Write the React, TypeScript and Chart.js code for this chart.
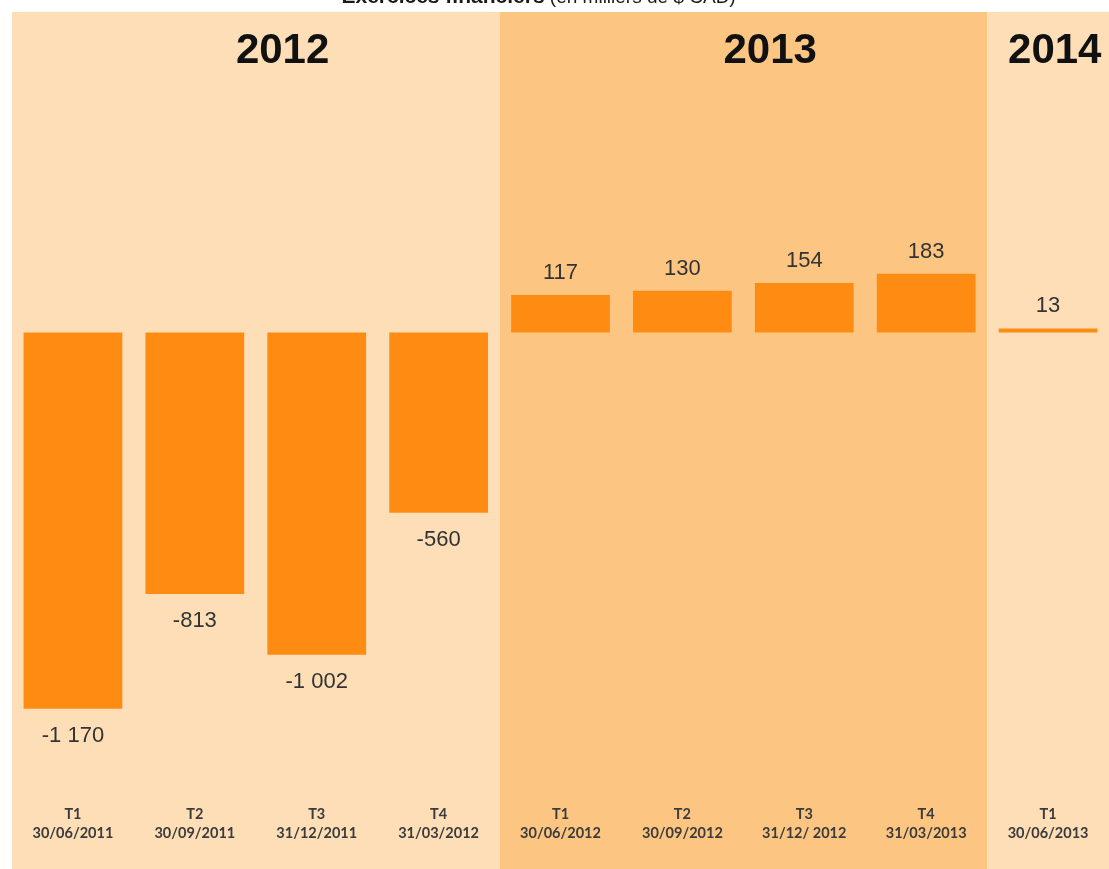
import React, { useEffect, useRef } from "react";
import { Chart, registerables } from "chart.js";

Chart.register(...registerables);

const quarterLabels: string[][] = [
  ["T1", "30/06/2011"],
  ["T2", "30/09/2011"],
  ["T3", "31/12/2011"],
  ["T4", "31/03/2012"],
  ["T1", "30/06/2012"],
  ["T2", "30/09/2012"],
  ["T3", "31/12/ 2012"],
  ["T4", "31/03/2013"],
  ["T1", "30/06/2013"],
];
const netValues: number[] = [-1170, -813, -1002, -560, 117, 130, 154, 183, 13];
const yearLabels: string[] = ["2012", "2013", "2014"];
const yearGroupSizes: number[] = [4, 4, 1];
const titleBold = "Exercices financiers";
const titleNormal = " (en milliers de $ CAD)";

const LIGHT_BAND = "#FDDEB7";
const DARK_BAND = "#FCC682";
const BAR_COLOR = "#FE8B12";
const TEXT_COLOR = "#333333";

const fmt = (v: number): string => {
  const s = Math.abs(v)
    .toString()
    .replace(/\B(?=(\d{3})+(?!\d))/g, " ");
  return (v < 0 ? "-" : "") + s;
};

const bandsPlugin = {
  id: "yearBands",
  beforeDraw(chart: any) {
    const { ctx, chartArea } = chart;
    const xs = chart.scales.x;
    let start = 0;
    ctx.save();
    yearGroupSizes.forEach((n, gi) => {
      const end = start + n;
      const left =
        start === 0
          ? chartArea.left
          : (xs.getPixelForValue(start - 1) + xs.getPixelForValue(start)) / 2;
      const right =
        end >= netValues.length
          ? chart.width
          : (xs.getPixelForValue(end - 1) + xs.getPixelForValue(end)) / 2;
      ctx.fillStyle = gi % 2 === 0 ? LIGHT_BAND : DARK_BAND;
      ctx.fillRect(left, chartArea.top, right - left, chart.height - chartArea.top);
      ctx.fillStyle = "#111111";
      ctx.font = "bold 42px 'Liberation Sans', Arial, sans-serif";
      ctx.textAlign = "center";
      ctx.textBaseline = "alphabetic";
      ctx.fillText(yearLabels[gi], left + (right - left) * 0.555, chartArea.top + 51);
      start = end;
    });
    ctx.restore();
  },
};

const valueLabelsPlugin = {
  id: "valueLabels",
  afterDatasetsDraw(chart: any) {
    const { ctx } = chart;
    const meta = chart.getDatasetMeta(0);
    ctx.save();
    ctx.fillStyle = TEXT_COLOR;
    ctx.font = "22px 'Liberation Sans', Arial, sans-serif";
    ctx.textAlign = "center";
    ctx.textBaseline = "alphabetic";
    meta.data.forEach((bar: any, i: number) => {
      const v = netValues[i];
      const { x, y } = bar.getProps(["x", "y"], true);
      if (v >= 0) ctx.fillText(fmt(v), x, y - 16);
      else ctx.fillText(fmt(v), x, y + 33);
    });
    ctx.restore();
  },
};

const titlePlugin = {
  id: "cutTitle",
  afterDraw(chart: any) {
    const { ctx, chartArea } = chart;
    ctx.save();
    const boldFont = "bold 21px 'Liberation Sans', Arial, sans-serif";
    const normFont = "19px 'Liberation Sans', Arial, sans-serif";
    ctx.font = boldFont;
    const w1 = ctx.measureText(titleBold).width;
    ctx.font = normFont;
    const w2 = ctx.measureText(titleNormal).width;
    const cx = chartArea.left + chartArea.width * 0.48;
    const x0 = cx - (w1 + w2) / 2;
    ctx.fillStyle = "#1a1a1a";
    ctx.textAlign = "left";
    ctx.textBaseline = "alphabetic";
    ctx.font = boldFont;
    ctx.fillText(titleBold, x0, 3);
    ctx.font = normFont;
    ctx.fillText(titleNormal, x0 + w1, 3);
    ctx.restore();
  },
};

export default function App() {
  const canvasRef = useRef<HTMLCanvasElement | null>(null);

  useEffect(() => {
    if (!canvasRef.current) return;
    const chart = new Chart(canvasRef.current, {
      type: "bar",
      data: {
        labels: quarterLabels,
        datasets: [
          {
            data: netValues,
            backgroundColor: BAR_COLOR,
            borderWidth: 0,
            categoryPercentage: 1,
            barPercentage: 0.81,
          },
        ],
      },
      options: {
        responsive: false,
        animation: false,
        layout: { padding: { left: 12, right: 0, top: 12, bottom: 22 } },
        plugins: {
          legend: { display: false },
          tooltip: { enabled: false },
          title: { display: false },
        },
        scales: {
          x: {
            grid: { display: false, drawTicks: false },
            border: { display: false },
            ticks: {
              padding: 4,
              color: "#3b3b3b",
              font: { family: "Lato, 'DejaVu Sans', sans-serif", size: 14.5, weight: "bold", lineHeight: 1.32 },
              maxRotation: 0,
              autoSkip: false,
            },
          },
          y: {
            display: false,
            min: -1456,
            max: 997,
          },
        },
      },
      plugins: [bandsPlugin, valueLabelsPlugin, titlePlugin],
    });
    return () => chart.destroy();
  }, []);

  return (
    <div style={{ position: "absolute", left: 0, top: 0, width: 1109, height: 869 }}>
      <canvas ref={canvasRef} width={1109} height={869} />
    </div>
  );
}
